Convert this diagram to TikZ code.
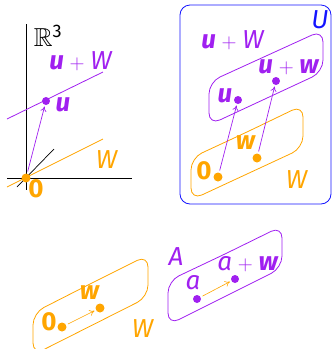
\documentclass[tikz,border=0pt]{standalone}
\usepackage{fontspec}
\setmainfont{Fira Sans}
\usepackage{amssymb}
\usetikzlibrary{arrows.meta}
\definecolor{orng}{RGB}{255,165,0}
\definecolor{purp}{RGB}{160,32,240}
\definecolor{blu}{RGB}{20,20,255}
\newcommand{\bi}[1]{\textbf{\textit{#1}}}
\newcommand{\pl}{\hspace{0.22em}{\fontsize{22}{22}\selectfont$+$}\hspace{0.22em}}
\tikzset{
  lbl/.style={inner sep=0pt, font=\fontsize{26}{30}\selectfont},
  dotO/.style={circle, fill=orng, inner sep=0pt, minimum size=9pt},
  dotP/.style={circle, fill=purp, inner sep=0pt, minimum size=8pt},
  setline/.style={line width=0.8pt, rounded corners=12pt},
  arr/.style={line width=0.7pt, -{To[length=5pt,width=6pt]}, shorten >=1.5pt, shorten <=2pt},
}
\begin{document}
\begin{tikzpicture}[x=1pt,y=-1pt]
\useasboundingbox (0,0) rectangle (332,349);
% ---------- top left ----------
\coordinate (vt) at (26,24); \coordinate (vb) at (26,190);
\coordinate (hl) at (7,178); \coordinate (hr) at (132,178);
\draw[line width=0.8pt] (vt) -- (vb);
\draw[line width=0.8pt] (hl) -- (hr);
\coordinate (d1) at (17,187); \coordinate (d2) at (54,149);
\draw[line width=0.7pt] (d1) -- (d2);
\coordinate (wl) at (7,187); \coordinate (wr) at (103,139);
\draw[orng, line width=0.8pt] (wl) -- (wr);
\coordinate (ul) at (7,119); \coordinate (ur) at (103,72);
\draw[purp, line width=0.8pt] (ul) -- (ur);
\node[dotO] (tlO) at (26,178) {};
\node[dotP] (tlU) at (46,101) {};
\draw[purp, arr] (tlO) -- (tlU);
\node[lbl] (R3) at (48,36) {$\mathbb{R}$\textsuperscript{3}};
\node[lbl, text=purp] (tluW) at (81,61) {\bi{u}\pl\textit{W}};
\node[lbl, text=purp] (tlu) at (63,105) {\bi{u}};
\node[lbl, text=orng] (tlW) at (107,160) {\textit{W}};
\node[lbl, text=orng] (tl0) at (36,189) {\textbf{0}};
% ---------- top right ----------
\draw[blu, line width=0.8pt, rounded corners=10pt] (180,5) rectangle (331,204);
\node[lbl, text=blu] (U) at (320,20) {\textit{U}};
\draw[purp, setline] (266,56) -- (323,30) -- (323,72) -- (209,125) -- (209,82) -- cycle;
\draw[orng, setline] (247,132) -- (303,105) -- (303,148) -- (191,200) -- (191,158) -- cycle;
\node[dotO] (trO) at (218,177) {};
\node[dotO] (trW) at (257,158) {};
\node[dotP] (trU) at (238,100) {};
\node[dotP] (trUW) at (276,81) {};
\draw[purp, arr] (trO) -- (trU);
\draw[purp, arr] (trW) -- (trUW);
\node[lbl, text=purp] (truW) at (233,40) {\bi{u}\pl\textit{W}};
\node[lbl, text=purp] (truw) at (289,67) {\bi{u}\pl\bi{w}};
\node[lbl, text=purp] (tru) at (225,96) {\bi{u}};
\node[lbl, text=orng] (trw) at (246,143) {\bi{w}};
\node[lbl, text=orng] (tr0) at (204,171) {\textbf{0}};
\node[lbl, text=orng] (trWl) at (297,180) {\textit{W}};
% ---------- bottom ----------
\draw[orng, setline] (90,284) -- (148,255) -- (148,297) -- (33,355) -- (33,313) -- cycle;
\draw[purp, setline] (225,254) -- (282,226) -- (282,268) -- (168,325) -- (168,281) -- cycle;
\node[dotO] (bO) at (62,327) {};
\node[dotO] (bW) at (100,308) {};
\node[dotP] (bA) at (197,299) {};
\node[dotP] (bAW) at (235,279) {};
\draw[orng, arr, line width=0.6pt] (bO) -- (bW);
\draw[orng, arr, line width=0.6pt] (bA) -- (bAW);
\node[lbl, text=orng] (b0) at (49,322) {\textbf{0}};
\node[lbl, text=orng] (bw) at (90,293) {\bi{w}};
\node[lbl, text=orng] (bWl) at (143,329) {\textit{W}};
\node[lbl, text=purp] (bAl) at (176,257) {\textit{A}};
\node[lbl, text=purp] (ba) at (193,283) {\textit{a}};
\node[lbl, text=purp] (baw) at (248,264) {\textit{a}\pl\bi{w}};
\end{tikzpicture}
\end{document}
